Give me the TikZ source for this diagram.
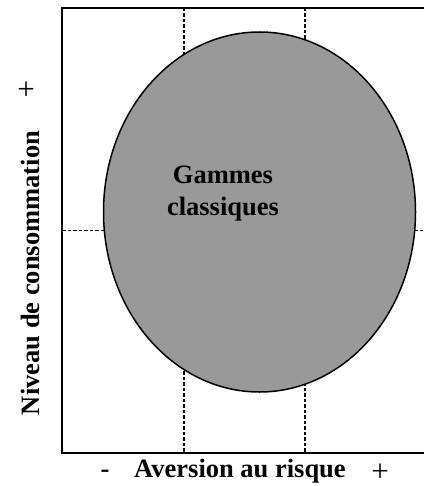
\documentclass[tikz,border=0pt]{standalone}
\usepackage{fontspec}
\setmainfont{Liberation Serif}
\usetikzlibrary{shapes.geometric}

\tikzset{
  frameline/.style={line width=1.5pt},
  guideline/.style={line width=1.3pt, dash pattern=on 3.5pt off 2pt},
  bigtext/.style={font=\fontsize{26.5}{32}\selectfont\bfseries},
  signtext/.style={font=\fontsize{31}{36}\selectfont, inner sep=0pt}
}

\begin{document}
\begin{tikzpicture}[x=1pt, y=-1pt]
\useasboundingbox (0,0) rectangle (424,486);
% Frame corners
\coordinate (topleft) at (62,8);
\coordinate (topright) at (424,8);
\coordinate (botleft) at (62,453);
\coordinate (botright) at (424,453);
% Guide lines
\draw[guideline] (184,8) -- (184,453);
\draw[guideline] (305,8) -- (305,453);
\draw[guideline] (62,230.5) -- (424,230.5);
% Frame
\draw[frameline] (topright) -- (topleft) -- (botleft) -- (botright);
% Ellipse
\node[ellipse, draw, line width=1.5pt, fill=black!40, minimum width=312pt,
  minimum height=360pt, inner sep=0pt] (range) at (259.5,212) {};
\node[bigtext, align=center] (rangelabel) at (223,194) {Gammes\\classiques};
% Axis labels
\node[bigtext, rotate=90, anchor=base] (ylabel) at (39,273) {Niveau de consommation};
\node[signtext] (yplus) at (26,91) {+};
\node[bigtext, anchor=base] (xlabel) at (240,477) {Aversion au risque};
\node[bigtext, anchor=base] (xminus) at (105,477) {-};
\node[signtext] (xplus) at (380,473) {+};
\end{tikzpicture}
\end{document}
